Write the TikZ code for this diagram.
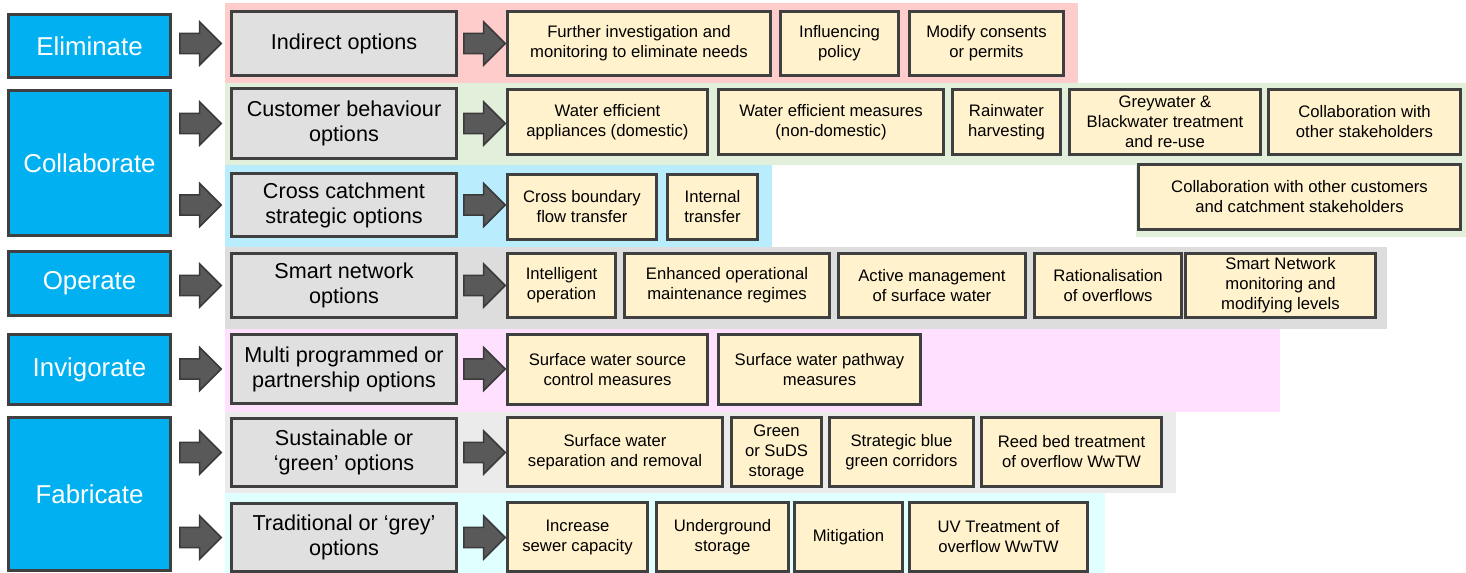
\documentclass[tikz,border=0pt]{standalone}
\usepackage{fontspec}
\setmainfont{Liberation Sans}
\usepackage{xcolor}
\usepackage{tikz}
\usetikzlibrary{calc,shapes.arrows}

\definecolor{stageblue}{HTML}{00B0F0}
\definecolor{optgrey}{HTML}{E0E0E0}
\definecolor{measyellow}{HTML}{FFF2CC}
\definecolor{boxline}{HTML}{404040}
\definecolor{arrowfill}{HTML}{595959}
\definecolor{arrowline}{HTML}{3A3A3A}
\definecolor{bandred}{HTML}{FFCCCC}
\definecolor{bandgreen}{HTML}{E2EFDA}
\definecolor{bandblue}{HTML}{B9ECFD}
\definecolor{bandgrey}{HTML}{DDDDDD}
\definecolor{bandpink}{HTML}{FFE0FF}
\definecolor{bandsilver}{HTML}{EBEBEB}
\definecolor{bandcyan}{HTML}{E0FFFF}

\newcommand{\px}{0.75pt}

\begin{document}
\begin{tikzpicture}[x=0.75pt,y=-0.75pt]

\tikzset{box/.style={rectangle, draw=boxline, line width=3*\px, anchor=north west, align=center, inner sep=0pt},
stage/.style={box, fill=stageblue, text=white, font=\fontsize{19.4}{23}\selectfont},
option/.style={box, fill=optgrey, text=black, font=\fontsize{16.2}{18.75}\selectfont},
measure/.style={box, fill=measyellow, text=black, font=\fontsize{12.5}{15}\selectfont},
blkarrow/.style={single arrow, fill=arrowfill, draw=arrowline, line width=1.2pt, inner xsep=0pt, inner ysep=7pt,
   single arrow head extend=8.5pt, minimum height=31pt, anchor=tail}}

\useasboundingbox (0,0) rectangle (1466,573);

%coloured bands behind each row
\fill[bandred] (225,3) rectangle (1078,83);
\fill[bandgreen] (225,83) -- (1466,83) -- (1466,237) -- (1136,237) -- (1136,165) -- (225,165) -- cycle;
\fill[bandblue] (225,165) rectangle (772,247);
\fill[bandgrey] (225,247) rectangle (1387,329);
\fill[bandpink] (225,329) rectangle (1280,412);
\fill[bandsilver] (225,412) rectangle (1176,493);
\fill[bandcyan] (225,493) rectangle (1105,573);

\foreach \nm/\xa/\ya/\xb/\yb/\txt in {elim/7/13/172/79/Eliminate, collab/7/89/172/237/Collaborate,
  oper/7/250/172/317/Operate, invig/7/333/172/406/Invigorate, fabr/7/416/172/572/Fabricate}
  \node[stage, minimum width={(\xb-\xa-3)*\px}, minimum height={(\yb-\ya-3)*\px}] (\nm) at (\xa,\ya) {\txt};

\foreach \nm/\xa/\ya/\xb/\yb/\txt in {ind/230/10/458/77/{Indirect options},
  cbo/230/87/458/160/{Customer behaviour\\options},
  cco/230/172/458/238/{Cross catchment\\strategic options},
  sno/230/252/458/319/{Smart network\\options},
  mpo/230/333/458/405/{Multi programmed or\\partnership options},
  sgo/230/417/458/488/{Sustainable or\\‘green’ options},
  tgo/230/502/458/573/{Traditional or ‘grey’\\options}}
  \node[option, minimum width={(\xb-\xa-3)*\px}, minimum height={(\yb-\ya-3)*\px}] (\nm) at (\xa,\ya) {\txt};

\foreach \nm/\xa/\ya/\xb/\yb/\txt in {fi/506/10/772/77/{Further investigation and\\monitoring to eliminate needs},
  ip/779/10/900/77/{Influencing\\policy},
  mc/908/10/1065/77/{Modify consents\\or permits},
  wea/506/88/709/156/{Water efficient\\appliances (domestic)},
  wem/717/88/945/156/{Water efficient measures\\(non-domestic)},
  rh/951/88/1062/156/{Rainwater\\harvesting},
  gw/1068/88/1262/156/{Greywater \&\\Blackwater treatment\\and re-use},
  cos/1267/88/1462/156/{Collaboration with\\other stakeholders},
  cwo/1137/163/1462/231/{Collaboration with other customers\\and catchment stakeholders},
  cb/506/173/658/241/{Cross boundary\\flow transfer},
  it/666/173/759/241/{Internal\\transfer},
  io/506/252/617/319/{Intelligent\\operation},
  eo/623/252/831/319/{Enhanced operational\\maintenance regimes},
  am/837/252/1027/319/{Active management\\of surface water},
  ro/1033/252/1183/319/{Rationalisation\\of overflows},
  sn/1184/252/1377/319/{Smart Network\\monitoring and\\modifying levels},
  ss/506/333/709/406/{Surface water source\\control measures},
  sp/717/333/922/406/{Surface water pathway\\measures},
  sw/506/416/724/488/{Surface water\\separation and removal},
  gs/730/416/823/488/{Green\\or SuDS\\storage},
  sb/828/416/975/488/{Strategic blue\\green corridors},
  rb/980/416/1163/488/{Reed bed treatment\\of overflow WwTW},
  is/506/501/649/573/{Increase\\sewer capacity},
  us/655/501/790/573/{Underground\\storage},
  mi/793/501/904/573/{Mitigation},
  uv/908/501/1089/573/{UV Treatment of\\overflow WwTW}}
  \node[measure, minimum width={(\xb-\xa-3)*\px}, minimum height={(\yb-\ya-3)*\px}] (\nm) at (\xa,\ya) {\txt};

%block arrows stage -> option -> measures
\foreach \stg/\opt/\msr in {elim/ind/fi, collab/cbo/wea, collab/cco/cb, oper/sno/io, invig/mpo/ss, fabr/sgo/sw, fabr/tgo/is} {
  \node[blkarrow] (in-\opt) at ($(\stg.east |- \opt.west)+(7,0)$) {};
  \node[blkarrow] (out-\opt) at ($(\opt.east)+(5,0)$) {};
}

\end{tikzpicture}
\end{document}
